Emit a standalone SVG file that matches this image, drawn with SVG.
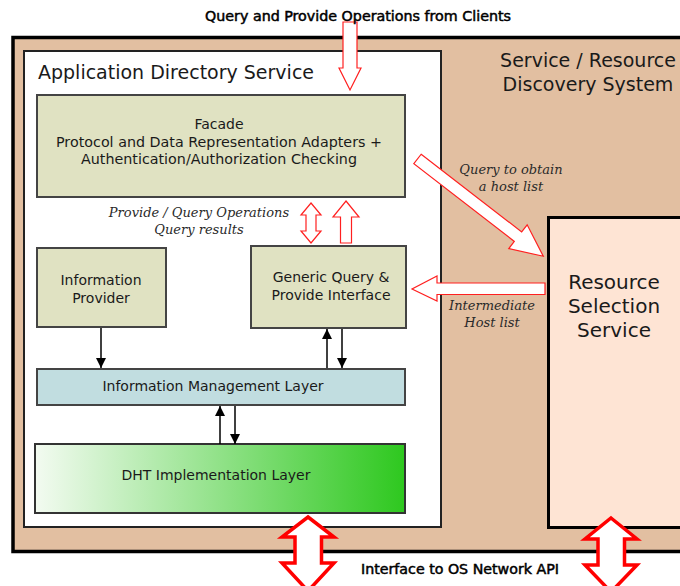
<svg xmlns="http://www.w3.org/2000/svg" width="680" height="586" viewBox="0 0 680 586">
  <style>
    .sans { font-family: "DejaVu Sans", "Liberation Sans", sans-serif; fill: #1a1a1a; }
    .cond { font-family: "DejaVu Sans Condensed", "DejaVu Sans", sans-serif; fill: #000; stroke: #000; stroke-width: 0.45; }
    .note { font-family: "DejaVu Serif", "Liberation Serif", serif; font-style: italic; font-size: 13px; fill: #2a2a2a; }
    .box { stroke: #444; stroke-width: 2; }
    .hollow { fill: #fff; stroke: #ff2020; stroke-width: 1.2; stroke-linejoin: miter; }
    .thick { fill: #fff; stroke: #ff0000; stroke-width: 3.5; stroke-linejoin: miter; }
    .link { stroke: #000; stroke-width: 1.5; fill: none; marker-end: url(#tri); }
  </style>
  <defs>
    <marker id="tri" viewBox="0 0 10 10" refX="10" refY="5" markerWidth="10" markerHeight="10" markerUnits="userSpaceOnUse" orient="auto">
      <path d="M0,0 L10,5 L0,10 Z" fill="#000"/>
    </marker>
    <linearGradient id="dhtFill" x1="0" y1="0" x2="1" y2="0">
      <stop offset="0" stop-color="#f3fbf1"/>
      <stop offset="1" stop-color="#2ec81f"/>
    </linearGradient>
  </defs>

  <rect width="680" height="586" fill="#fff"/>

  <!-- outer system frame -->
  <g id="system">
    <rect x="13" y="37.5" width="700" height="514" fill="#e2bfa1" stroke="#000" stroke-width="3.5"/>
    <text class="sans" font-size="19" text-anchor="middle" x="588" y="67">Service / Resource</text>
    <text class="sans" font-size="19" text-anchor="middle" x="588" y="91">Discovery System</text>
  </g>

  <!-- application directory service container -->
  <g id="app-directory">
    <rect x="24" y="51" width="417" height="476" fill="#fff" stroke="#222" stroke-width="2"/>
    <text class="sans" font-size="19" x="38" y="79">Application Directory Service</text>
  </g>

  <g id="facade">
    <rect class="box" x="37" y="95" width="368" height="102" fill="#e0e2c2"/>
    <text class="sans" font-size="14" text-anchor="middle" x="219" y="129">Facade</text>
    <text class="sans" font-size="14" text-anchor="middle" x="219" y="147" textLength="326" lengthAdjust="spacingAndGlyphs">Protocol and Data Representation Adapters +</text>
    <text class="sans" font-size="14" text-anchor="middle" x="219" y="164" textLength="276" lengthAdjust="spacingAndGlyphs">Authentication/Authorization Checking</text>
  </g>

  <g id="info-provider">
    <rect class="box" x="37" y="248" width="129" height="79" fill="#e0e2c2"/>
    <text class="sans" font-size="14" text-anchor="middle" x="101" y="285">Information</text>
    <text class="sans" font-size="14" text-anchor="middle" x="101" y="303">Provider</text>
  </g>

  <g id="generic-query">
    <rect class="box" x="251" y="246" width="155" height="82" fill="#e0e2c2"/>
    <text class="sans" font-size="14" text-anchor="middle" x="331" y="282">Generic Query &amp;</text>
    <text class="sans" font-size="14" text-anchor="middle" x="331" y="300">Provide Interface</text>
  </g>

  <g id="info-management">
    <rect class="box" x="37" y="369" width="368" height="36" fill="#c1dde0"/>
    <text class="sans" font-size="14" text-anchor="middle" x="213" y="391">Information Management Layer</text>
  </g>

  <g id="dht">
    <rect x="35" y="444" width="370" height="69" fill="url(#dhtFill)" stroke="#333" stroke-width="2"/>
    <text class="sans" font-size="14" text-anchor="middle" x="216" y="480">DHT Implementation Layer</text>
  </g>

  <g id="resource-selection">
    <rect x="548.5" y="217.5" width="200" height="310" fill="#fee4d4" stroke="#000" stroke-width="3"/>
    <text class="sans" font-size="20" text-anchor="middle" x="614" y="289">Resource</text>
    <text class="sans" font-size="20" text-anchor="middle" x="614" y="313">Selection</text>
    <text class="sans" font-size="20" text-anchor="middle" x="614" y="337">Service</text>
  </g>

  <!-- connectors -->
  <g id="connectors">
    <!-- client requests into the facade -->
    <path class="hollow" d="M343,22 L357,22 L357,68 L361,68 L350,90 L339,68 L343,68 Z"/>
    <!-- facade <-> generic query interface -->
    <path class="hollow" d="M311,203 L321,215 L316,215 L316,231 L321,231 L311,243 L301,231 L306,231 L306,215 L301,215 Z"/>
    <path class="hollow" d="M346,201 L359,217 L351.5,217 L351.5,243 L340.5,243 L340.5,217 L333,217 Z"/>
    <!-- host list query to resource selection -->
    <path class="hollow" transform="translate(417.5,159) rotate(37.7)" d="M0,-6 L127,-6 L127,-15 L159,0 L127,15 L127,6 L0,6 Z"/>
    <!-- intermediate host list back -->
    <path class="hollow" d="M545,283 L437,283 L437,276 L412,289 L437,301 L437,294.5 L545,294.5 Z"/>

    <!-- internal layer links -->
    <line class="link" x1="101" y1="328" x2="101" y2="368"/>
    <line class="link" x1="327" y1="368" x2="327" y2="329"/>
    <line class="link" x1="342" y1="329" x2="342" y2="368"/>
    <line class="link" x1="220" y1="444" x2="220" y2="406"/>
    <line class="link" x1="235" y1="406" x2="235" y2="444"/>

    <!-- OS network interface -->
    <path class="thick" d="M308,517 L334,537 L321.5,537 L321.5,563 L334,563 L308,591 L282,563 L295,563 L295,537 L282,537 Z"/>
    <path class="thick" d="M611,518 L637,539 L624.5,539 L624.5,565 L637,565 L611,592 L585,565 L598,565 L598,539 L585,539 Z"/>
  </g>

  <!-- free labels -->
  <g id="labels">
    <text class="cond" font-size="14" text-anchor="middle" x="358" y="21" textLength="306" lengthAdjust="spacingAndGlyphs">Query and Provide Operations from Clients</text>
    <text class="cond" font-size="14" text-anchor="middle" x="460" y="574" textLength="198" lengthAdjust="spacingAndGlyphs">Interface to OS Network API</text>
    <text class="note" text-anchor="middle" x="199" y="217">Provide / Query Operations</text>
    <text class="note" text-anchor="middle" x="199" y="234">Query results</text>
    <text class="note" text-anchor="middle" x="511" y="174">Query to obtain</text>
    <text class="note" text-anchor="middle" x="511" y="191">a host list</text>
    <text class="note" text-anchor="middle" x="492" y="310">Intermediate</text>
    <text class="note" text-anchor="middle" x="492" y="327">Host list</text>
  </g>
</svg>
